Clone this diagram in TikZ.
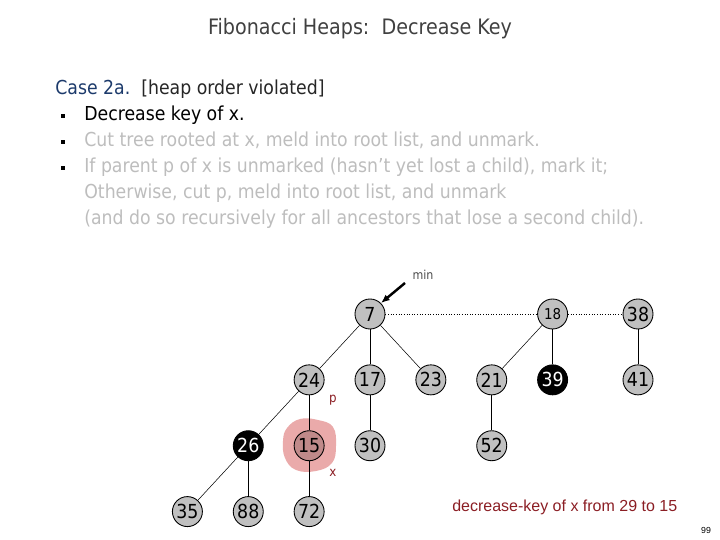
\documentclass[tikz,border=0pt]{standalone}
\usepackage{fontspec}
\setmainfont{DejaVu Sans Condensed}
\newfontfamily\arialfont{Liberation Sans}
\usetikzlibrary{positioning,arrows.meta}

\definecolor{keygray}{HTML}{C0C0C0}
\definecolor{fadedgray}{HTML}{BDBDBD}
\definecolor{casenavy}{HTML}{1C3A6B}
\definecolor{labelred}{HTML}{8B1E24}
\definecolor{blobpink}{HTML}{EAAAAA}
\definecolor{xpink}{HTML}{C08A8A}

\tikzset{
  key/.style={draw, circle, fill=keygray, line width=0.5pt, minimum size=0.6cm, inner sep=0pt,
    font=\fontsize{11}{12}\selectfont},
  marked/.style={key, fill=black, text=white},
  tree/.style={line width=0.5pt},
  thintree/.style={line width=0.3pt},
  rootlist/.style={densely dotted, line width=0.5pt},
  bodyline/.style={anchor=base west, inner sep=0pt, font=\fontsize{10.95}{12}\selectfont},
  bulletbox/.style={fill=black, minimum size=2.2pt, inner sep=0pt},
  tag/.style={text=labelred, inner sep=0pt, font=\fontsize{7.5}{8}\selectfont},
}

\begin{document}
\begin{tikzpicture}[x=0.02cm, y=-0.02cm, node distance=0.7cm and 0.6cm]
    \useasboundingbox (0,0) rectangle (720,540);

    % title and text
    \node[anchor=base, text=black!75, inner sep=0pt, font=\fontsize{12.1}{13}\selectfont] (title) at (360,35) {Fibonacci Heaps:\ \ Decrease Key};
    \node[bodyline] (case) at (55,95) {\textcolor{casenavy}{Case 2a.}\ \ \textcolor{black!85}{[heap order violated]}};
    \node[bodyline] (item1) at (84,121) {Decrease key of x.};
    \node[bodyline, text=fadedgray] (item2) at (84,147) {Cut tree rooted at x, meld into root list, and unmark.};
    \node[bodyline, text=fadedgray] (item3) at (84,173) {If parent p of x is unmarked (hasn't yet lost a child), mark it;};
    \node[bodyline, text=fadedgray] (item3b) at (84,199) {Otherwise, cut p, meld into root list, and unmark};
    \node[bodyline, text=fadedgray] (item3c) at (84,225) {(and do so recursively for all ancestors that lose a second child).};
    \node[bulletbox] (dot1) at (63,116) {};
    \node[bulletbox] (dot2) at (63,142) {};
    \node[bulletbox] (dot3) at (63,168) {};

    % highlight behind x
    \fill[blobpink] plot[smooth cycle, tension=0.7] coordinates {(287,428) (300,419) (318,420) (333,427) (336,446) (332,463) (316,471) (296,470) (285,458) (283,441)};

    % heap
    \node[key] (k7) at (370,314) {7};
    \node[key, below=of k7] (k17) {17};
    \node[key, left=of k17] (k24) {24};
    \node[key, right=of k17] (k23) {23};
    \node[key, right=of k23] (k21) {21};
    \node[marked, right=of k21] (k39) {39};
    \node[key, above=of k39, font=\fontsize{8.5}{9}\selectfont] (k18) {18};
    \node[key] (k38) at (638,314) {38};
    \node[key, below=of k38] (k41) {41};
    \node[key, below=of k24, fill=xpink] (k15) {15};
    \node[marked, left=of k15] (k26) {26};
    \node[key, below=of k17] (k30) {30};
    \node[key, below=of k21] (k52) {52};
    \node[key, below=of k15] (k72) {72};
    \node[key, below=of k26] (k88) {88};
    \node[key, left=of k88] (k35) {35};

    \draw[rootlist] (k7) -- (k18);
    \draw[rootlist] (k18) -- (k38);

    \draw[thintree] (k7) -- (k24);
    \draw[tree] (k7) -- (k17);
    \draw[thintree] (k7) -- (k23);
    \draw[thintree] (k24) -- (k26);
    \draw[tree] (k24) -- (k15);
    \draw[tree] (k17) -- (k30);
    \draw[thintree] (k26) -- (k35);
    \draw[tree] (k26) -- (k88);
    \draw[tree] (k15) -- (k72);
    \draw[thintree] (k18) -- (k21);
    \draw[tree] (k18) -- (k39);
    \draw[tree] (k21) -- (k52);
    \draw[tree] (k38) -- (k41);

    % min pointer and labels
    \node[inner sep=0pt, text=black!70, font=\fontsize{7}{8}\selectfont] (minlabel) at (423,275) {min};
    \coordinate (mintail) at (405,283);
    \draw[-{Latex[length=5pt, width=4pt]}, line width=1.4pt] (mintail) -- (k7.north east);
    \node[tag] (plabel) at (333,400) {p};
    \node[tag] (xlabel) at (333,473) {x};

    \node[anchor=base west, inner sep=0pt, text=labelred, font=\arialfont\fontsize{9.1}{10}\selectfont] (note) at (452,511) {decrease-key of x from 29 to 15};
    \node[inner sep=0pt, font=\arialfont\fontsize{5}{6}\selectfont] (pagenum) at (706,530) {99};
\end{tikzpicture}
\end{document}
